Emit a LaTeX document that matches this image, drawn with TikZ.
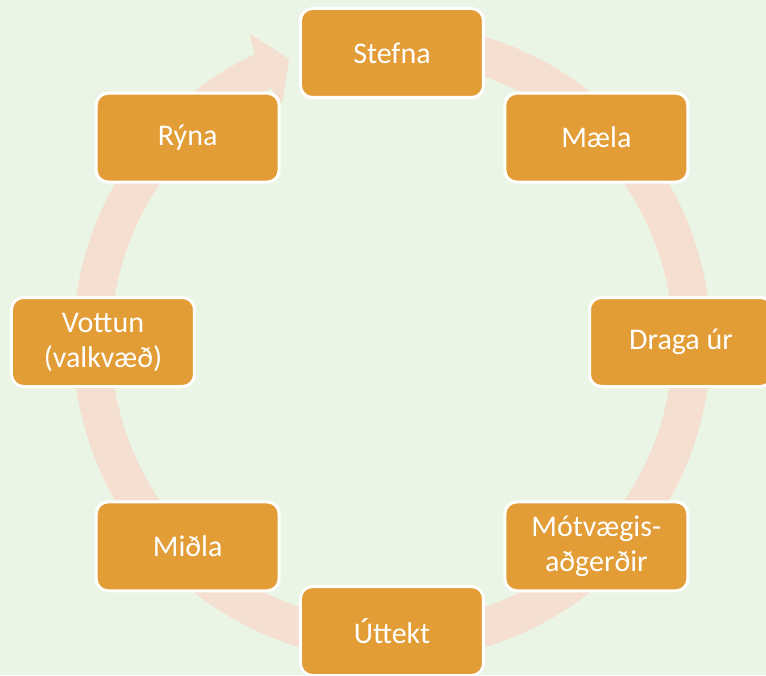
\documentclass[tikz,border=0pt]{standalone}
\usepackage{fontspec}
\setmainfont{Carlito}
\definecolor{bgreen}{RGB}{235,245,229}
\definecolor{ringpeach}{RGB}{244,223,209}
\definecolor{boxorange}{RGB}{226,157,55}

\begin{document}
\begin{tikzpicture}[x=1pt,y=1pt,
    stage/.style={draw=white,line width=3pt,fill=boxorange,rounded corners=12pt,
        minimum width=183pt,minimum height=89pt,text=white,align=center,
        font=\fontsize{30}{35}\selectfont}]
            \clip (-392,-333) rectangle (374,342);
            \fill[bgreen] (-392,-333) rectangle (374,342);
            % ring arrow
            \fill[ringpeach] (75:319) arc (75:-244.5:319) -- (-245.2:340) -- (-250:301)
                -- (-245.2:262) -- (-244.5:281) arc (-244.5:75:281) -- cycle;
            % stages
            \node[stage] (stefna) at (90:289) {Stefna};
            \node[stage] (maela) at (45:289) {Mæla};
            \node[stage] (draga) at (0:289) {Draga úr};
            \node[stage] (motvaegi) at (-45:289) {Mótvægis-\\aðgerðir};
            \node[stage] (uttekt) at (-90:289) {Úttekt};
            \node[stage] (midla) at (-135:289) {Miðla};
            \node[stage] (vottun) at (180:289) {Vottun\\(valkvæð)};
            \node[stage] (ryna) at (135:289) {Rýna};
        \end{tikzpicture}
\end{document}
